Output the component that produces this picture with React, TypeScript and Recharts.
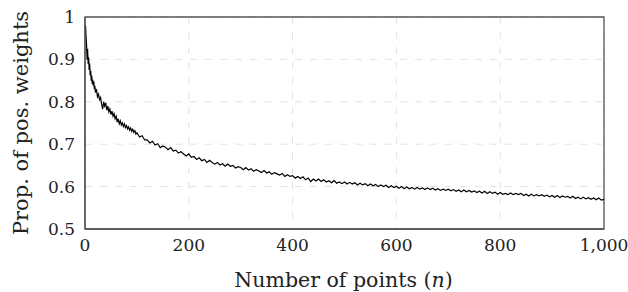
import React from "react";
import { LineChart, Line, XAxis, YAxis, CartesianGrid, ReferenceArea, Label } from "recharts";

const nEarly = [1, 2, 3, 4, 5, 6, 7, 8, 9, 10, 11, 12, 13, 14, 15, 16, 17, 18, 19, 20,
  22, 24, 26, 28, 30, 32, 34, 36, 38, 40, 42, 44, 46, 48, 50, 52, 54, 56, 58, 60,
  62, 64, 66, 68, 70, 72, 74, 76, 78, 80, 82, 84, 86, 88, 90, 92, 94, 96, 98];
const propEarly = [0.980, 0.955, 0.935, 0.900, 0.925, 0.890, 0.905, 0.875, 0.890, 0.862,
  0.873, 0.850, 0.862, 0.842, 0.852, 0.838, 0.848, 0.830, 0.838, 0.822,
  0.830, 0.812, 0.818, 0.805, 0.810, 0.795, 0.783, 0.800, 0.790, 0.797,
  0.780, 0.790, 0.776, 0.783, 0.770, 0.778, 0.766, 0.772, 0.760, 0.766,
  0.752, 0.760, 0.748, 0.755, 0.745, 0.750, 0.742, 0.748, 0.739, 0.744,
  0.736, 0.741, 0.733, 0.738, 0.730, 0.735, 0.728, 0.732, 0.724];

const nLate = [100, 105, 110, 115, 120, 125, 130, 135, 140, 145, 150, 155, 160, 165, 170, 175, 180, 185, 190, 195,
  200, 205, 210, 215, 220, 225, 230, 235, 240, 245, 250, 255, 260, 265, 270, 275, 280, 285, 290, 295,
  300, 305, 310, 315, 320, 325, 330, 335, 340, 345, 350, 355, 360, 365, 370, 375, 380, 385, 390, 395,
  400, 405, 410, 415, 420, 425, 430, 435, 440, 445, 450, 455, 460, 465, 470, 475, 480, 485, 490, 495,
  500, 505, 510, 515, 520, 525, 530, 535, 540, 545, 550, 555, 560, 565, 570, 575, 580, 585, 590, 595,
  600, 605, 610, 615, 620, 625, 630, 635, 640, 645, 650, 655, 660, 665, 670, 675, 680, 685, 690, 695,
  700, 705, 710, 715, 720, 725, 730, 735, 740, 745, 750, 755, 760, 765, 770, 775, 780, 785, 790, 795,
  800, 805, 810, 815, 820, 825, 830, 835, 840, 845, 850, 855, 860, 865, 870, 875, 880, 885, 890, 895,
  900, 905, 910, 915, 920, 925, 930, 935, 940, 945, 950, 955, 960, 965, 970, 975, 980, 985, 990, 995, 1000];
const propLate = [0.727, 0.717, 0.720, 0.710, 0.710, 0.703, 0.707, 0.698, 0.701, 0.692, 0.696, 0.693, 0.687, 0.692, 0.684, 0.686, 0.679, 0.682, 0.677, 0.672,
  0.677, 0.669, 0.671, 0.664, 0.668, 0.661, 0.664, 0.657, 0.662, 0.657, 0.653, 0.657, 0.651, 0.654, 0.648, 0.653, 0.648, 0.650, 0.644, 0.647,
  0.645, 0.640, 0.645, 0.639, 0.642, 0.636, 0.640, 0.637, 0.633, 0.638, 0.632, 0.635, 0.629, 0.633, 0.630, 0.627, 0.631, 0.624, 0.628, 0.624,
  0.626, 0.620, 0.624, 0.619, 0.623, 0.616, 0.620, 0.612, 0.618, 0.613, 0.618, 0.612, 0.616, 0.611, 0.614, 0.609, 0.614, 0.608, 0.611, 0.607,
  0.611, 0.606, 0.610, 0.606, 0.609, 0.604, 0.608, 0.604, 0.607, 0.602, 0.606, 0.602, 0.605, 0.600, 0.604, 0.600, 0.603, 0.598, 0.602, 0.598,
  0.601, 0.596, 0.600, 0.595, 0.599, 0.595, 0.598, 0.594, 0.598, 0.594, 0.597, 0.593, 0.597, 0.593, 0.596, 0.592, 0.595, 0.591, 0.594, 0.591,
  0.594, 0.590, 0.593, 0.589, 0.592, 0.588, 0.592, 0.588, 0.591, 0.587, 0.590, 0.586, 0.589, 0.585, 0.589, 0.584, 0.588, 0.584, 0.587, 0.582,
  0.586, 0.582, 0.584, 0.581, 0.585, 0.581, 0.584, 0.581, 0.584, 0.579, 0.582, 0.578, 0.582, 0.578, 0.581, 0.578, 0.581, 0.577, 0.580, 0.576,
  0.579, 0.575, 0.579, 0.574, 0.578, 0.575, 0.577, 0.573, 0.577, 0.572, 0.575, 0.571, 0.575, 0.571, 0.574, 0.570, 0.573, 0.569, 0.573, 0.568, 0.570];

const xTicks = [0, 200, 400, 600, 800, 1000];
const yTicks = [0.5, 0.6, 0.7, 0.8, 0.9, 1];

const data = [
  ...nEarly.map((n, i) => ({ n, p: propEarly[i] })),
  ...nLate.map((n, i) => ({ n, p: propLate[i] })),
];

const FONT = "'DejaVu Serif', serif";
const TEXT = "#222";

const fmtX = (v: number) => (v === 1000 ? "1,000" : String(v));
const fmtY = (v: number) => (v === 1 ? "1" : v.toFixed(1));

export default function App() {
  return (
    <div style={{ position: "absolute", left: 0, top: 0 }}>
      <LineChart
        width={628}
        height={292}
        data={data}
        margin={{ top: 17, right: 24, bottom: 33, left: 25 }}
      >
        <CartesianGrid stroke="#e2e2e2" strokeDasharray="7 8" />
        <XAxis
          dataKey="n"
          type="number"
          domain={[0, 1000]}
          ticks={xTicks}
          tickFormatter={fmtX}
          height={30}
          tickLine={false}
          tickMargin={4}
          stroke="#555"
          strokeWidth={1.3}
          tick={{ fill: TEXT, fontSize: 17, fontFamily: FONT }}
        >
          <Label
            content={(props: any) => {
              const vb = props.viewBox || {};
              const cx = vb.x + vb.width / 2 - 1;
              return (
                <text x={cx} y={287} textAnchor="middle" fill={TEXT} fontSize={20.5} fontFamily={FONT}>
                  Number of points (<tspan fontStyle="italic">n</tspan>)
                </text>
              );
            }}
          />
        </XAxis>
        <YAxis
          type="number"
          domain={[0.5, 1]}
          ticks={yTicks}
          tickFormatter={fmtY}
          width={60}
          tickLine={false}
          tickMargin={4}
          stroke="#555"
          strokeWidth={1.3}
          tick={{ fill: TEXT, fontSize: 17, fontFamily: FONT }}
        >
          <Label
            content={(props: any) => {
              const vb = props.viewBox || {};
              const cy = vb.y + vb.height / 2;
              return (
                <text
                  x={28}
                  y={cy}
                  textAnchor="middle"
                  fill={TEXT}
                  fontSize={21}
                  fontFamily={FONT}
                  transform={`rotate(-90 28 ${cy})`}
                >
                  Prop. of pos. weights
                </text>
              );
            }}
          />
        </YAxis>
        <ReferenceArea x1={0} x2={1000} y1={0.5} y2={1} fill="none" stroke="#555" strokeWidth={1.3} ifOverflow="visible" />
        <Line
          type="linear"
          dataKey="p"
          stroke="#000"
          strokeWidth={1.2}
          dot={false}
          isAnimationActive={false}
        />
      </LineChart>
    </div>
  );
}
